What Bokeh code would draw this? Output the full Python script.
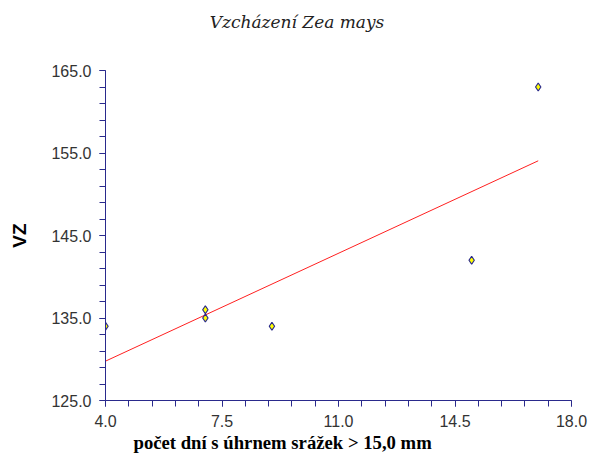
import numpy as np
from bokeh.plotting import figure
from bokeh.layouts import column
from bokeh.models import FixedTicker, Range1d, Title, NumeralTickFormatter, Div
from bokeh.embed import file_html
from bokeh.resources import INLINE

# data
pocet_dni = [4, 7, 7, 9, 15, 17]
vz = [134, 136, 135, 134, 142, 163]
x_ticks = [4.0, 7.5, 11.0, 14.5, 18.0]
y_ticks = [125.0, 135.0, 145.0, 155.0, 165.0]
x_minor = [round(4.0 + 0.7 * i, 2) for i in range(21)]
y_minor = [125.0 + 2 * i for i in range(21)]
title_text = "Vzcházení Zea mays"

slope, intercept = np.polyfit(pocet_dni, vz, 1)
fit_x = [min(pocet_dni), max(pocet_dni)]
fit_y = [intercept + slope * v for v in fit_x]

AXC = "#2a2a8c"
p = figure(width=590, height=413, output_backend="svg", toolbar_location=None,
           x_range=Range1d(4, 18), y_range=Range1d(125, 165),
           min_border_left=105, min_border_right=19, min_border_top=26, min_border_bottom=57,
           margin=0)
p.outline_line_color = None
p.grid.visible = False
p.background_fill_color = "white"
p.border_fill_color = "white"

p.line(fit_x, fit_y, line_color="#ff2020", line_width=1)
p.scatter(pocet_dni, vz, marker="diamond", size=8, fill_color="#ffff00", line_color="#2a2a8c", line_width=1.2)

for ax in (p.xaxis[0], p.yaxis[0]):
    ax.axis_line_color = AXC
    ax.major_tick_line_color = AXC
    ax.minor_tick_line_color = AXC
    ax.major_tick_in = 0
    ax.major_tick_out = 6
    ax.minor_tick_in = 0
    ax.minor_tick_out = 6
    ax.major_label_text_font = "Liberation Sans"
    ax.major_label_text_font_size = "16px"
    ax.major_label_text_color = "#333333"
    ax.major_label_standoff = 8
    ax.formatter = NumeralTickFormatter(format="0.0")

p.xaxis.ticker = FixedTicker(ticks=x_ticks, minor_ticks=x_minor)
p.yaxis.ticker = FixedTicker(ticks=y_ticks, minor_ticks=y_minor)

p.yaxis.axis_label = "VZ"
p.yaxis.axis_label_text_font = "Liberation Sans"
p.yaxis.axis_label_text_font_style = "bold"
p.yaxis.axis_label_text_font_size = "19px"
p.yaxis.axis_label_text_color = "black"
p.yaxis.axis_label_standoff = 18

p.add_layout(Title(text="počet dní s úhrnem srážek > 15,0 mm", align="left", offset=28,
                   text_font="Liberation Serif", text_font_style="bold", text_font_size="18.7px",
                   text_color="black", standoff=0), "below")

header = Div(text=('<div style="width:594px;height:44px;line-height:44px;text-align:center;'
                   'font-family:\'DejaVu Serif\';font-style:italic;font-size:17px;color:#222222;">'
                   + title_text + '</div>'),
             width=590, height=44, margin=0)

layout = column(header, p, spacing=0, margin=0)
open("out.html", "w").write(file_html(layout, INLINE))
